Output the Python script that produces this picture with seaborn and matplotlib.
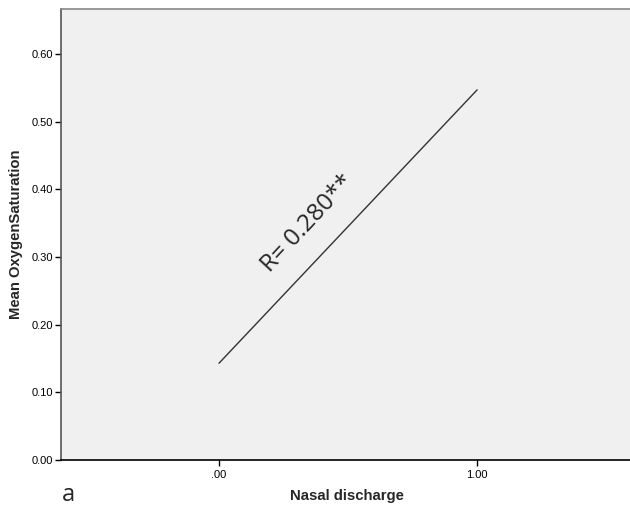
import numpy as np
import pandas as pd
from matplotlib import pyplot as plt
from matplotlib import ticker as ticker
import seaborn as sns

sns.set_style('white')

nasal = [0.0, 1.0]
oxygen = [0.143, 0.547]
yticks = [0.0, 0.1, 0.2, 0.3, 0.4, 0.5, 0.6]
xticks = [0.0, 1.0]
xticklabels = ['.00', '1.00']

df = pd.DataFrame({'Nasal discharge': nasal, 'Mean OxygenSaturation': oxygen})

plt.rcParams['font.family'] = ['Liberation Sans', 'DejaVu Sans']

fig = plt.figure(figsize=(6.3, 5.08), dpi=100)
ax = fig.add_axes([61/630, 48/508, 571/630, 451/508])
ax.set_facecolor('#f0f0f0')

sns.lineplot(x='Nasal discharge', y='Mean OxygenSaturation', data=df, color='#333333', linewidth=1.0, ax=ax)

ax.set_xlim(-0.612, 1.6)
ax.set_ylim(0, 0.6665)
ax.set_yticks(yticks)
ax.yaxis.set_major_formatter(ticker.FormatStrFormatter('%.2f'))
ax.set_xticks(xticks)
ax.set_xticklabels(xticklabels)
ax.tick_params(axis='both', labelsize=8, length=4, width=1, colors='black', direction='out', pad=2)
ax.tick_params(axis='x', pad=3)
ax.tick_params(axis='y', left=True)
ax.tick_params(axis='x', bottom=True)

ax.set_xlabel('Nasal discharge', fontsize=10.7, fontweight='bold', labelpad=7)
ax.set_ylabel('Mean OxygenSaturation', fontsize=10.7, fontweight='bold', labelpad=6)

ax.spines['left'].set_color('#555555')
ax.spines['top'].set_color('#888888')
ax.spines['bottom'].set_color('black')
ax.spines['right'].set_visible(False)
for s in ['left', 'top', 'bottom']:
    ax.spines[s].set_linewidth(1.2)

ax.text(0.345, 0.35, 'R= 0.280**', rotation=47, fontsize=17.5, family=['Open Sans', 'DejaVu Sans'],
        ha='center', va='center')
fig.text(68/630, 1 - 495/508, 'a', fontsize=17, family=['Open Sans', 'DejaVu Sans'], ha='center', va='center')

plt.savefig('out.png', dpi=100)
